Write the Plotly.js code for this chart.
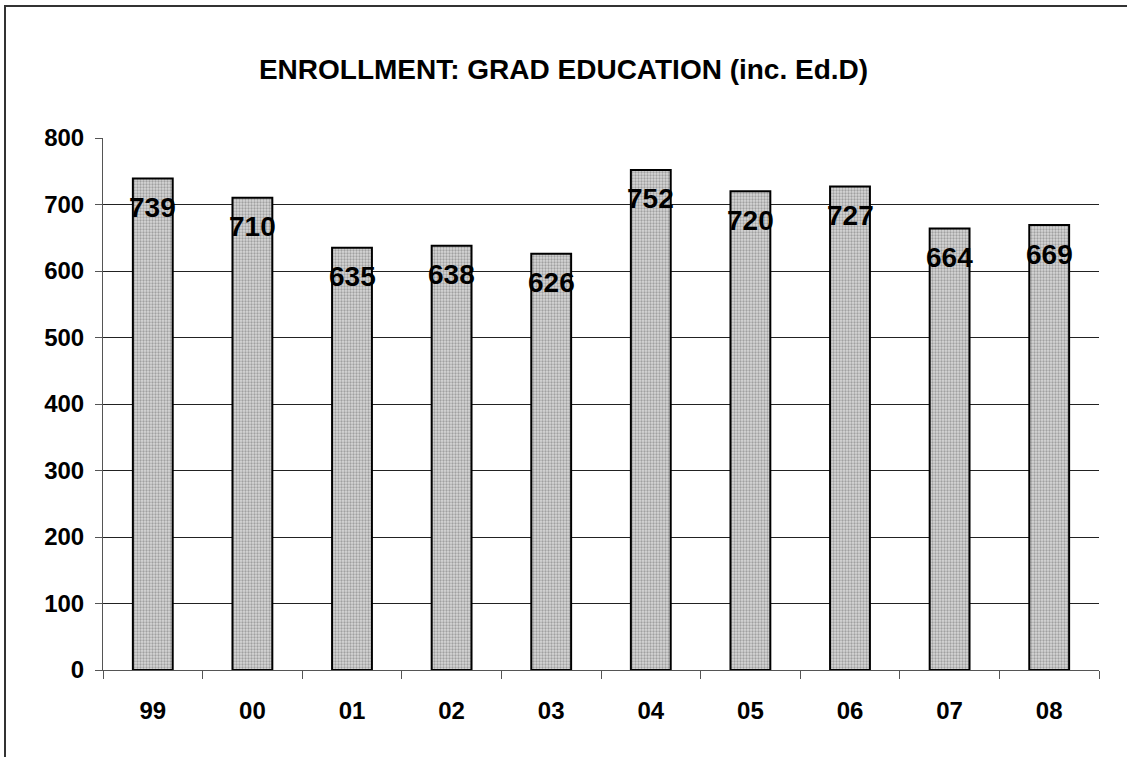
<!DOCTYPE html>
<html>
<head>
<meta charset="utf-8">
<script src="https://cdn.plot.ly/plotly-3.0.1.min.js"></script>
<style>
  html, body { margin: 0; padding: 0; background: #fff; }
  #wrap { position: relative; width: 1127px; height: 757px; }
  #chart { position: absolute; left: 0; top: 0; width: 1127px; height: 757px; }
  #frame { position: absolute; left: 4px; top: 5px; width: 1200px; height: 800px;
           border-top: 2px solid #333; border-left: 2px solid #333; pointer-events: none; }
</style>
</head>
<body>
<div id="wrap">
  <div id="chart"></div>
  <div id="frame"></div>
</div>
<script>
const years = ["99", "00", "01", "02", "03", "04", "05", "06", "07", "08"];
const enrollment = [739, 710, 635, 638, 626, 752, 720, 727, 664, 669];
const yTicks = [0, 100, 200, 300, 400, 500, 600, 700, 800];
const gridTicks = [100, 200, 300, 400, 500, 600, 700];
const chartTitle = "ENROLLMENT: GRAD EDUCATION (inc. Ed.D)";

const FONT = "Arial, 'Liberation Sans', sans-serif";

const trace = {
  type: "bar",
  x: years,
  y: enrollment,
  marker: {
    color: "#c8c8c8",
    line: { color: "#000", width: 2 },
    pattern: { shape: ".", bgcolor: "#d8d8d8", fgcolor: "#a0a0a0", size: 3, solidity: 0.45 }
  },
  hoverinfo: "skip",
  showlegend: false
};

const gridTrace = {
  type: "scatter", mode: "markers",
  x: years, y: years.map(() => null),
  yaxis: "y2", showlegend: false, hoverinfo: "skip"
};

const labels = years.map((c, i) => ({
  x: i, y: enrollment[i], xref: "x", yref: "y",
  text: String(enrollment[i]), showarrow: false,
  yanchor: "middle", yshift: -29,
  font: { family: FONT, size: 28, color: "#000", weight: "bold" }
}));

const layout = {
  width: 1127, height: 757,
  paper_bgcolor: "#fff", plot_bgcolor: "#fff",
  margin: { l: 103, r: 28, t: 138, b: 87 },
  bargap: 0.6,
  title: {
    text: chartTitle, x: 0.5, xref: "container", xanchor: "center",
    y: 1 - 69 / 757, yref: "container", yanchor: "middle",
    font: { family: FONT, size: 28, color: "#000", weight: "bold" }
  },
  xaxis: {
    type: "category",
    categoryorder: "array", categoryarray: years,
    range: [-0.5, years.length - 0.5],
    tickson: "boundaries",
    ticks: "outside", ticklen: 8, tickcolor: "#555", tickwidth: 1,
    showline: true, linecolor: "#555", linewidth: 1,
    showgrid: false, zeroline: false,
    tickangle: 0,
    ticklabelstandoff: 19,
    tickfont: { family: FONT, size: 24, color: "#000", weight: "bold" }
  },
  yaxis: {
    range: [0, 800],
    tickvals: yTicks,
    ticktext: yTicks.map(String),
    ticks: "outside", ticklen: 7, tickcolor: "#555", tickwidth: 1,
    showline: true, linecolor: "#555", linewidth: 1,
    showgrid: false, zeroline: false,
    ticklabelstandoff: 6,
    tickfont: { family: FONT, size: 24, color: "#000", weight: "bold" }
  },
  yaxis2: {
    overlaying: "y", range: [0, 800],
    tickvals: gridTicks, showticklabels: false, ticks: "",
    showgrid: true, gridcolor: "#222", gridwidth: 1,
    zeroline: false, showline: false
  },
  annotations: labels
};

Plotly.newPlot("chart", [gridTrace, trace], layout, { displayModeBar: false, staticPlot: true });
</script>
</body>
</html>
